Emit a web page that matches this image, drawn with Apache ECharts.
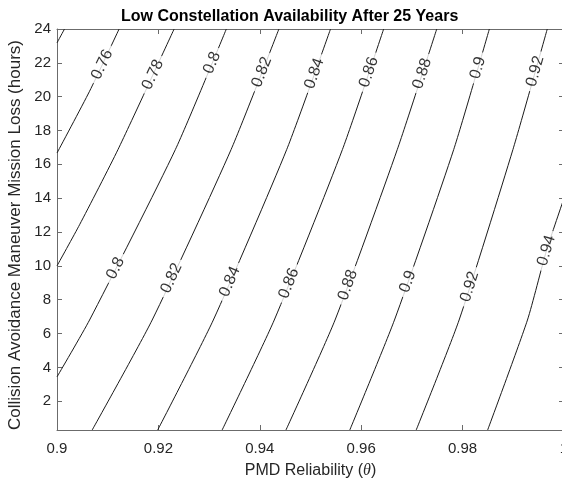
<!DOCTYPE html>
<html>
<head>
<meta charset="utf-8">
<script src="https://cdn.jsdelivr.net/npm/echarts@6/dist/echarts.min.js"></script>
<style>
html, body { margin: 0; padding: 0; background: #fff; }
#chart { width: 562px; height: 478px; }
</style>
</head>
<body>
<div id="chart"></div>
<script>
// contour levels and the points of each line (theta, hours)
var levels = [0.74, 0.76, 0.78, 0.8, 0.82, 0.84, 0.86, 0.88, 0.9, 0.92, 0.94];
var lineTheta = [
    [0.9, 0.90148],
    [0.9, 0.90642, 0.91225],
    [0.9, 0.90445, 0.91202, 0.92310],
    [0.9, 0.90642, 0.92334, 0.93340],
    [0.90694, 0.91877, 0.93433, 0.94377],
    [0.91986, 0.93083, 0.94530, 0.95395],
    [0.93257, 0.94285, 0.95629, 0.96443],
    [0.94516, 0.95484, 0.96711, 0.97490],
    [0.95775, 0.96656, 0.97824, 0.98528],
    [0.97085, 0.97931, 0.98992, 0.99670],
    [0.98494, 0.99279, 0.99654, 1.0]
];
var lineHours = [
    [23.18, 24],
    [16.67, 20.32, 24],
    [10.0, 12.43, 16.87, 24],
    [3.44, 6.8, 16.87, 24],
    [0.3, 6.8, 16.87, 24],
    [0.3, 6.8, 16.87, 24],
    [0.3, 6.8, 16.87, 24],
    [0.3, 6.8, 16.87, 24],
    [0.3, 6.8, 16.87, 24],
    [0.3, 6.8, 16.87, 24],
    [0.3, 6.8, 10.9, 14.0]
];

// inline labels: which level, and at what height on the line
var labelLevels = [0.76, 0.78, 0.8, 0.82, 0.84, 0.86, 0.88, 0.9, 0.92,
                   0.8, 0.82, 0.84, 0.86, 0.88, 0.9, 0.92, 0.94];
var labelHours = [21.9, 21.3, 22.0, 21.45, 21.37, 21.45, 21.37, 21.7, 21.5,
                  9.86, 9.27, 9.07, 8.97, 8.87, 9.07, 8.77, 10.9];

var xTicks = [0.9, 0.92, 0.94, 0.96, 0.98, 1];
var yTicks = [2, 4, 6, 8, 10, 12, 14, 16, 18, 20, 22, 24];

var font = "'Liberation Sans', Arial, sans-serif";
var textColor = '#262626';
var axisColor = '#6b6b6b';

function thetaAt(k, h) {
    var th = lineTheta[k], hs = lineHours[k];
    for (var i = 0; i < hs.length - 1; i++) {
        if (h >= hs[i] && h <= hs[i + 1]) {
            var f = (h - hs[i]) / (hs[i + 1] - hs[i]);
            return th[i] + f * (th[i + 1] - th[i]);
        }
    }
    return th[th.length - 1];
}

var series = [];
for (var k = 0; k < levels.length; k++) {
    var pts = [];
    for (var i = 0; i < lineTheta[k].length; i++) {
        pts.push([lineTheta[k][i], lineHours[k][i]]);
    }
    series.push({
        type: 'line',
        data: pts,
        smooth: 0.2,
        symbol: 'none',
        silent: true,
        lineStyle: { color: '#1a1a1a', width: 1 },
        z: 2
    });
}

var axisCommon = {
    axisLine: { show: true, lineStyle: { color: axisColor, width: 1 } },
    axisTick: { show: true, inside: true, length: 5, lineStyle: { color: axisColor } },
    splitLine: { show: false }
};

var option = {
    animation: false,
    title: {
        text: 'Low Constellation Availability After 25 Years',
        left: 116,
        top: 4,
        textStyle: { fontFamily: font, fontSize: 16, fontWeight: 'bold', color: '#000' }
    },
    grid: { left: 57, right: -2, top: 29, bottom: 48, outerBoundsMode: 'none' },
    series: series
};

option.xAxis = [
    Object.assign({}, axisCommon, {
        type: 'value', min: 0.9, max: 1, position: 'bottom',
        axisTick: Object.assign({}, axisCommon.axisTick, { customValues: xTicks }),
        axisLabel: { customValues: xTicks, margin: 11, fontFamily: font, fontSize: 15, color: textColor },
        name: '{n|PMD Reliability (}{t|θ}{n|)}',
        nameLocation: 'middle',
        nameGap: 33,
        nameTextStyle: {
            rich: {
                n: { fontFamily: font, fontSize: 16, color: textColor },
                t: { fontFamily: "'Liberation Serif', serif", fontStyle: 'italic', fontSize: 16, color: textColor }
            }
        }
    }),
    Object.assign({}, axisCommon, {
        type: 'value', min: 0.9, max: 1, position: 'top',
        axisTick: Object.assign({}, axisCommon.axisTick, { customValues: xTicks }),
        axisLabel: { show: false }
    })
];
option.yAxis = [
    Object.assign({}, axisCommon, {
        type: 'value', min: 0.3, max: 24, position: 'left',
        axisTick: Object.assign({}, axisCommon.axisTick, { customValues: yTicks }),
        axisLabel: { customValues: yTicks, margin: 6, fontFamily: font, fontSize: 15, color: textColor },
        name: 'Collision Avoidance Maneuver Mission Loss (hours)',
        nameLocation: 'middle',
        nameGap: 27,
        nameTextStyle: { fontFamily: font, fontSize: 17, color: textColor, padding: [0, 11, 0, 0] }
    }),
    Object.assign({}, axisCommon, {
        type: 'value', min: 0.3, max: 24, position: 'right',
        axisTick: Object.assign({}, axisCommon.axisTick, { customValues: yTicks }),
        axisLabel: { show: false }
    })
];

var myChart = echarts.init(document.getElementById('chart'));
myChart.setOption(option);

// labels sit on the lines, turned along them
var labelData = [];
for (var j = 0; j < labelLevels.length; j++) {
    var k2 = levels.indexOf(labelLevels[j]);
    var h = labelHours[j];
    var th = thetaAt(k2, h);
    var p1 = myChart.convertToPixel({ gridIndex: 0 }, [thetaAt(k2, h - 0.6), h - 0.6]);
    var p2 = myChart.convertToPixel({ gridIndex: 0 }, [thetaAt(k2, h + 0.6), h + 0.6]);
    var angle = Math.atan2(p1[1] - p2[1], p2[0] - p1[0]) * 180 / Math.PI;
    labelData.push({
        value: [th, h],
        name: String(labelLevels[j]),
        label: { rotate: angle }
    });
}

series.push({
    type: 'scatter',
    data: labelData,
    symbolSize: 0,
    silent: true,
    z: 5,
    label: {
        show: true,
        position: 'inside',
        formatter: function (p) { return p.name; },
        fontFamily: font,
        fontSize: 16,
        color: '#000',
        backgroundColor: '#fff',
        padding: [0, 5]
    }
});
myChart.setOption({ series: series });
</script>
</body>
</html>
